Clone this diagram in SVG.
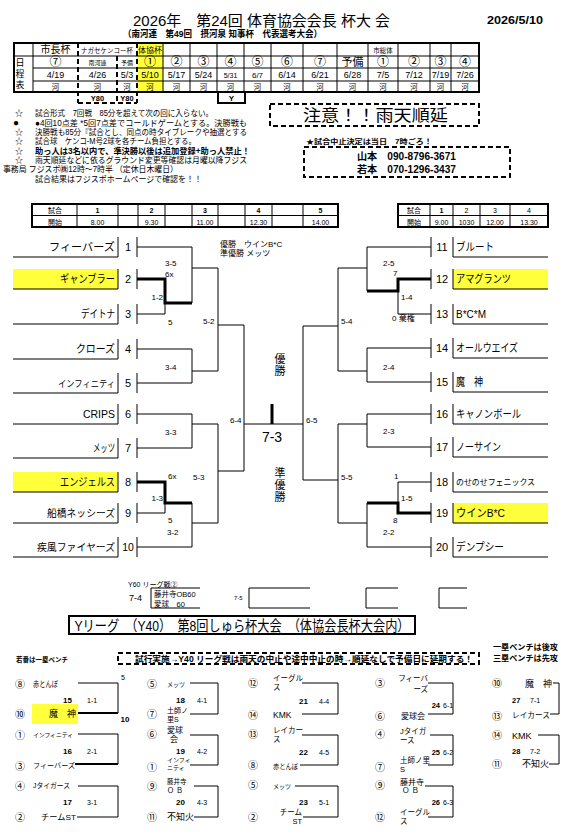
<svg xmlns="http://www.w3.org/2000/svg" width="570" height="836" viewBox="0 0 570 836">
<style>
.t{font-family:'Liberation Sans','Noto Sans CJK JP',sans-serif;fill:#000}
.b{font-weight:bold}
.m{text-anchor:middle}
.e{text-anchor:end}
.l{stroke:#000;stroke-width:1;fill:none}
.k{stroke:#000;stroke-width:3;fill:none}
.o{stroke:#000;stroke-width:2;fill:none}
.d{stroke:#000;stroke-width:2;stroke-dasharray:5 3;fill:none}
.y{fill:#ffff3c}
.s8{font-size:8px}
.s7{font-size:7px}
.s11{font-size:11px}
.c{font-size:10px;text-anchor:middle}
</style>
<rect width="570" height="836" fill="#fff"/>

<g id="header">
<text class="t" x="133" y="26" font-size="15" textLength="257" lengthAdjust="spacingAndGlyphs">2026年　第24回 体育協会会長 杯大 会</text>
<text class="t b" x="487" y="24" font-size="11" textLength="56" lengthAdjust="spacingAndGlyphs">2026/5/10</text>
<text class="t b" x="123" y="37" font-size="9.5" textLength="199" lengthAdjust="spacingAndGlyphs">（南河連　第49回　摂河泉 知事杯　代表選考大会）</text>
</g>

<g id="schedule">
<rect x="137" y="43" width="26" height="49" class="y"/>
<rect x="14" y="43" width="465" height="49" class="o"/>
<path class="l" d="M14 56H479M33 68H479M33 81H479"/>
<path class="l" d="M33 43V92M163 43V92M190 43V92M217 43V92M244 43V92M271 43V92M303 43V92M337 43V92M368 43V92M398 43V92M430 43V92M451 43V92"/>
<path class="d" d="M78 43V103M117 56V103M137 43V103M78 103H137"/>
<rect x="218" y="92" width="27" height="11" class="o"/>
<text class="t" x="20" y="66" font-size="9" text-anchor="middle">日</text>
<text class="t" x="20" y="77" font-size="9" text-anchor="middle">程</text>
<text class="t" x="20" y="88" font-size="9" text-anchor="middle">表</text>
<text class="t m" x="55.5" y="53" font-size="10">市長杯</text>
<text class="t m" x="107" y="53" font-size="6.5">ナガセケンコー杯</text>
<text class="t m" x="150" y="53" font-size="8">体協杯</text>
<text class="t m" x="383" y="53" font-size="6.5">市総体</text>
<g class="t m" font-size="12">
<text x="55.5" y="66">⑦</text><text x="150" y="66">①</text><text x="176.5" y="66">②</text><text x="203.5" y="66">③</text><text x="230.5" y="66">④</text><text x="257.5" y="66">⑤</text><text x="287" y="66">⑥</text><text x="320" y="66">⑦</text><text x="383" y="66">①</text><text x="414" y="66">②</text><text x="440.5" y="66">③</text><text x="465" y="66">④</text>
</g>
<text class="t m" x="97.5" y="65" font-size="6">南河連</text>
<text class="t m" x="127" y="65" font-size="6">予備</text>
<text class="t m" x="352.5" y="66" font-size="11">予備</text>
<g class="t m" font-size="9">
<text x="55.5" y="78">4/19</text><text x="97.5" y="78">4/26</text><text x="127" y="78">5/3</text><text x="150" y="78">5/10</text><text x="176.5" y="78">5/17</text><text x="203.5" y="78">5/24</text><text x="230.5" y="78" font-size="7">5/31</text><text x="257.5" y="78" font-size="8">6/7</text><text x="287" y="78">6/14</text><text x="320" y="78">6/21</text><text x="352.5" y="78">6/28</text><text x="383" y="78">7/5</text><text x="414" y="78">7/12</text><text x="440.5" y="78">7/19</text><text x="465" y="78">7/26</text>
</g>
<g class="t m" font-size="7.5" fill="#333">
<text x="55.5" y="90">河</text><text x="97.5" y="90">河</text><text x="127" y="90">河</text><text x="150" y="90">河</text><text x="176.5" y="90">河</text><text x="203.5" y="90">河</text><text x="230.5" y="90">河</text><text x="257.5" y="90">河</text><text x="287" y="90">河</text><text x="320" y="90">河</text><text x="352.5" y="90">河</text><text x="383" y="90">河</text><text x="414" y="90">河</text><text x="440.5" y="90">河</text><text x="465" y="90">河</text>
</g>
<text class="t b m" x="97.5" y="101" font-size="7.5">Y80</text>
<text class="t b m" x="127" y="101" font-size="7.5">Y80</text>
<text class="t b m" x="231.5" y="101" font-size="8">Y</text>
</g>

<g id="notes" class="t" font-size="8.5">
<text x="15" y="116" font-size="8">☆</text>
<text x="35" y="116" textLength="178" lengthAdjust="spacingAndGlyphs">試合形式　7回戦　85分を超えて次の回に入らない。</text>
<text x="13" y="126" font-size="10">●</text>
<text x="35" y="126" textLength="212" lengthAdjust="spacingAndGlyphs">●4回10点差 *5回7点差でコールドゲームとする。決勝戦も</text>
<text x="15" y="135" font-size="8">☆</text>
<text x="35" y="135" textLength="212" lengthAdjust="spacingAndGlyphs">決勝戦も85分『試合とし、同点の時タイブレークや抽選とする</text>
<text x="15" y="144" font-size="8">☆</text>
<text x="35" y="144" textLength="161" lengthAdjust="spacingAndGlyphs">試合球　ケンコ-M号2球を各チーム負担とする。</text>
<text x="15" y="154" font-size="8">☆</text>
<text x="35" y="154" class="b" textLength="215" lengthAdjust="spacingAndGlyphs">助っ人は3名以内で、準決勝以後は追加登録+助っ人禁止！</text>
<text x="15" y="163" font-size="8">☆</text>
<text x="35" y="163" textLength="212" lengthAdjust="spacingAndGlyphs">雨天順延などに依るグラウンド変更等確認は月曜以降フジス</text>
<text x="3" y="172" textLength="175" lengthAdjust="spacingAndGlyphs">事務局 フジスポ㈱12時～7時半 （定休日木曜日）</text>
<text x="35" y="182" textLength="167" lengthAdjust="spacingAndGlyphs">試合結果はフジスポホームページで確認を！！</text>
</g>

<g id="rain-notice">
<rect x="270" y="104" width="209" height="22" class="d"/>
<text class="t" x="303" y="121" font-size="16" textLength="145" lengthAdjust="spacingAndGlyphs">注意！！雨天順延</text>
<text class="t b" x="306" y="144" font-size="7" textLength="126" lengthAdjust="spacingAndGlyphs">★試合中止決定は当日　7時ごろ！</text>
<rect x="304" y="147" width="206" height="30" class="d"/>
<text class="t b" x="357" y="160" font-size="10" textLength="99" lengthAdjust="spacingAndGlyphs">山本　090-8796-3671</text>
<text class="t b" x="357" y="173" font-size="10" textLength="99" lengthAdjust="spacingAndGlyphs">若本　070-1296-3437</text>
</g>

<g id="time-left">
<rect x="32" y="204" width="306" height="23" class="o"/>
<path class="l" d="M32 215.5H338M77 204V227M118 204V227M138 204V227M165 204V227M192 204V227M218 204V227M245 204V227M272 204V227M303 204V227"/>
<g class="t m s7">
<text x="55" y="213">試合</text><text x="55" y="225">開始</text>
<text x="97.5" y="213" class="b">1</text><text x="97.5" y="225">8.00</text>
<text x="151.5" y="213" class="b">2</text><text x="151.5" y="225">9.30</text>
<text x="205" y="213" class="b">3</text><text x="205" y="225">11.00</text>
<text x="258.5" y="213" class="b">4</text><text x="258.5" y="225">12.30</text>
<text x="320.5" y="213" class="b">5</text><text x="320.5" y="225">14.00</text>
</g>
</g>

<g id="time-right">
<rect x="398" y="204" width="150" height="23" class="o"/>
<path class="l" d="M398 215.5H548M430 204V227M453 204V227M480 204V227M510 204V227"/>
<g class="t m s7">
<text x="414" y="213">試合</text><text x="414" y="225">開始</text>
<text x="441.5" y="213" class="b">1</text><text x="441.5" y="225">9.00</text>
<text x="466.5" y="213">2</text><text x="466.5" y="225">1030</text>
<text x="495" y="213">3</text><text x="495" y="225">12.00</text>
<text x="529" y="213">4</text><text x="529" y="225">13.30</text>
</g>
</g>

<g id="team-1"><path class="l" d="M13 257H118V237M137 237V257"/><text class="t e s11" x="115" y="251" textLength="66" lengthAdjust="spacingAndGlyphs">フィーバーズ</text><text class="t m s11" x="128" y="251">1</text></g>
<g id="team-2"><rect class="y" x="13" y="269" width="105" height="20"/><path class="l" d="M13 289H118V269M137 269V289"/><text class="t e s11" x="115" y="283" textLength="55" lengthAdjust="spacingAndGlyphs">ギャンブラー</text><text class="t m s11" x="128" y="283">2</text></g>
<g id="team-3"><path class="l" d="M13 324H118V304M137 304V324"/><text class="t e s11" x="115" y="318" textLength="34" lengthAdjust="spacingAndGlyphs">デイトナ</text><text class="t m s11" x="128" y="318">3</text></g>
<g id="team-4"><path class="l" d="M13 359H118V339M137 339V359"/><text class="t e s11" x="115" y="353" textLength="39" lengthAdjust="spacingAndGlyphs">クローズ</text><text class="t m s11" x="128" y="353">4</text></g>
<g id="team-5"><path class="l" d="M13 393H118V373M137 373V393"/><text class="t e" x="115" y="387" font-size="9.5" textLength="57" lengthAdjust="spacingAndGlyphs">インフィニティ</text><text class="t m s11" x="128" y="387">5</text></g>
<g id="team-6"><path class="l" d="M13 424H118V404M137 404V424"/><text class="t e s11" x="115" y="418" textLength="32" lengthAdjust="spacingAndGlyphs">CRIPS</text><text class="t m s11" x="128" y="418">6</text></g>
<g id="team-7"><path class="l" d="M13 458H118V438M137 438V458"/><text class="t e s11" x="115" y="452" textLength="22" lengthAdjust="spacingAndGlyphs">メッツ</text><text class="t m s11" x="128" y="452">7</text></g>
<g id="team-8"><rect class="y" x="13" y="472" width="105" height="20"/><path class="l" d="M13 492H118V472M137 472V492"/><text class="t e s11" x="115" y="486" textLength="55" lengthAdjust="spacingAndGlyphs">エンジェルス</text><text class="t m s11" x="128" y="486">8</text></g>
<g id="team-9"><path class="l" d="M13 523H118V503M137 503V523"/><text class="t e" x="115" y="517" font-size="10" textLength="68" lengthAdjust="spacingAndGlyphs">船橋ネッシーズ</text><text class="t m s11" x="128" y="517">9</text></g>
<g id="team-10"><path class="l" d="M13 557H118V537M137 537V557"/><text class="t e" x="115" y="551" font-size="10" textLength="78" lengthAdjust="spacingAndGlyphs">疾風ファイヤーズ</text><text class="t m" x="128" y="551" font-size="10.5">10</text></g>

<g id="team-11"><path class="l" d="M431 237V257M453 237V257H548"/><text class="t m s11" x="442" y="251">11</text><text class="t s11" x="456" y="251" textLength="38" lengthAdjust="spacingAndGlyphs">ブルート</text></g>
<g id="team-12"><rect class="y" x="453" y="269" width="95" height="20"/><path class="l" d="M431 269V289M453 269V289H548"/><text class="t m s11" x="442" y="283">12</text><text class="t s11" x="456" y="283" textLength="55" lengthAdjust="spacingAndGlyphs">アマグランツ</text></g>
<g id="team-13"><path class="l" d="M431 304V324M453 304V324H548"/><text class="t m s11" x="442" y="318">13</text><text class="t s11" x="456" y="318" textLength="30" lengthAdjust="spacingAndGlyphs">B*C*M</text></g>
<g id="team-14"><path class="l" d="M431 338V358M453 338V358H548"/><text class="t m s11" x="442" y="352">14</text><text class="t s11" x="456" y="352" textLength="62" lengthAdjust="spacingAndGlyphs">オールウエイズ</text></g>
<g id="team-15"><path class="l" d="M431 372V392M453 372V392H548"/><text class="t m s11" x="442" y="386">15</text><text class="t s11" x="456" y="386" textLength="27" lengthAdjust="spacingAndGlyphs">魔　神</text></g>
<g id="team-16"><path class="l" d="M431 404V424M453 404V424H548"/><text class="t m s11" x="442" y="418">16</text><text class="t s11" x="456" y="418" textLength="65" lengthAdjust="spacingAndGlyphs">キャノンボール</text></g>
<g id="team-17"><path class="l" d="M431 437V457M453 437V457H548"/><text class="t m s11" x="442" y="451">17</text><text class="t s11" x="456" y="451" textLength="45" lengthAdjust="spacingAndGlyphs">ノーサイン</text></g>
<g id="team-18"><path class="l" d="M431 472V492M453 472V492H548"/><text class="t m s11" x="442" y="486">18</text><text class="t" x="456" y="485" font-size="8.5" textLength="79" lengthAdjust="spacingAndGlyphs">のせのせフェニックス</text></g>
<g id="team-19"><rect class="y" x="453" y="503" width="95" height="20"/><path class="l" d="M431 503V523M453 503V523H548"/><text class="t m s11" x="442" y="517">19</text><text class="t s11" x="456" y="517" textLength="49" lengthAdjust="spacingAndGlyphs">ウインB*C</text></g>
<g id="team-20"><path class="l" d="M431 537V557M453 537V557H548"/><text class="t m s11" x="442" y="551">20</text><text class="t s11" x="456" y="551" textLength="48" lengthAdjust="spacingAndGlyphs">デンプシー</text></g>

<g id="connectors">
<path class="l" d="M137 247H192V303M137 314H165V303M192 268H218V371M137 349H192V383H137M192 371H218M218 325H244V471M137 414H192V448H137M192 424H218V523M137 513H165V503M192 503V547H137M192 523H218M218 471H244M244 424H303"/>
<path class="k" d="M137 279H165V303H192M137 482H165V503H192M272 404V424"/>
<path class="l" d="M431 247H367V291M431 314H398V291M367 268H338V371M431 348H367V382H431M367 371H338M338 326H303V480M431 414H367V447H431M367 424H338V523M431 482H398V503M367 503V547H431M367 523H338M338 480H303"/>
<path class="k" d="M431 279H398V291H367M431 513H398V503H367"/>
</g>

<g id="scores" class="t s8">
<text x="165" y="266">3-5</text><text x="165" y="277">6x</text><text x="163" y="300" class="e">1-2</text><text x="168" y="325">5</text>
<text x="203" y="324">5-2</text><text x="165" y="370">3-4</text><text x="165" y="435">3-3</text><text x="230" y="423">6-4</text>
<text x="168" y="479">6x</text><text x="193" y="480">5-3</text><text x="163" y="501" class="e">1-3</text><text x="168" y="523">5</text><text x="167" y="535">3-2</text>
<text x="383" y="266">2-5</text><text x="393" y="276">7</text><text x="401" y="300">1-4</text><text x="392" y="321">0 棄権</text>
<text x="341" y="324">5-4</text><text x="383" y="370">2-4</text><text x="306" y="423">6-5</text><text x="383" y="434">2-3</text>
<text x="341" y="480">5-5</text><text x="394" y="479">1</text><text x="401" y="501">1-5</text><text x="393" y="523">8</text><text x="383" y="535">2-2</text>
</g>

<g id="final">
<text class="t s8" x="220" y="247">優勝　ウインB*C</text>
<text class="t s8" x="220" y="256">準優勝 メッツ</text>
<text class="t m" x="280" y="363" font-size="11">優</text>
<text class="t m" x="280" y="375" font-size="11">勝</text>
<text class="t m" x="272" y="442" font-size="14">7-3</text>
<text class="t m" x="280" y="477" font-size="11">準</text>
<text class="t m" x="280" y="489" font-size="11">優</text>
<text class="t m" x="280" y="501" font-size="11">勝</text>
</g>

<g id="y60">
<text class="t s7" x="128" y="587">Y60 リーグ戦②</text>
<text class="t" x="129" y="601" font-size="9">7-4</text>
<path class="l" d="M200 588H151V608H200"/>
<text class="t" x="154" y="597" font-size="7.5">藤井寺OB60</text>
<text class="t" x="154" y="607" font-size="7.5">愛球　60</text>
<text class="t" x="234" y="600" font-size="6">7-5</text>
<path class="l" d="M310 588H249V608H310M398 588H366V608H398M467 588H439V608H467"/>
</g>

<g id="yleague-title">
<rect x="69" y="616" width="346" height="18" class="o"/>
<text class="t m" x="242" y="631" font-size="15" textLength="335" lengthAdjust="spacingAndGlyphs">Yリーグ　（Y40）　第8回しゅら杯大会　（体協会長杯大会内）</text>
<text class="t b" x="493" y="650" font-size="7.5" textLength="65" lengthAdjust="spacingAndGlyphs">一塁ベンチは後攻</text>
<text class="t b" x="493" y="661" font-size="7.5" textLength="65" lengthAdjust="spacingAndGlyphs">三塁ベンチは先攻</text>
<text class="t b" x="16" y="662" font-size="6.5" textLength="52" lengthAdjust="spacingAndGlyphs">若番は一塁ベンチ</text>
<rect x="118" y="653" width="361" height="11" class="d"/>
<text class="t b" x="135" y="662" font-size="8.5" textLength="338" lengthAdjust="spacingAndGlyphs">試行実施→Y40 リーグ戦は雨天の中止や途中中止の時→順延なしで予備日に延期する！</text>
</g>

<g id="ym-col1" class="t s8">
<text class="c" x="20" y="688">⑧</text><text x="33" y="687" textLength="25" lengthAdjust="spacingAndGlyphs">赤とんぼ</text>
<rect class="y" x="32" y="704" width="46" height="20"/>
<text class="c" x="20" y="718">⑩</text><text class="e" x="76" y="717" font-size="9">魔　神</text>
<path class="l" d="M78 683H118V713"/><path class="o" d="M78 713H118"/>
<text class="e b" x="72" y="703">15</text><text x="87" y="703" font-size="7">1-1</text>
<text x="121" y="680" font-size="7">5</text><text class="m b" x="125" y="722">10</text>
<text class="c" x="20" y="739">①</text><text x="33" y="737" font-size="6" textLength="40" lengthAdjust="spacingAndGlyphs">インフィニティ</text>
<text class="c" x="20" y="770">③</text><text x="33" y="768" font-size="7" textLength="42" lengthAdjust="spacingAndGlyphs">フィーバーズ</text>
<path class="l" d="M78 734H118V764"/><path class="o" d="M75 764H118"/>
<text class="e b" x="72" y="754">16</text><text x="87" y="754" font-size="7">2-1</text>
<text class="c" x="20" y="790">④</text><text x="33" y="788" font-size="7" textLength="37" lengthAdjust="spacingAndGlyphs">Jタイガース</text>
<text class="c" x="20" y="821">②</text><text x="41" y="820" textLength="35" lengthAdjust="spacingAndGlyphs">チームST</text>
<path class="l" d="M78 786H118V817H77"/>
<text class="e b" x="72" y="805">17</text><text x="87" y="805" font-size="7">3-1</text>
</g>

<g id="ym-col2" class="t s8">
<text class="c" x="152" y="688">⑤</text><text x="167" y="687" font-size="7" textLength="18" lengthAdjust="spacingAndGlyphs">メッツ</text>
<text class="c" x="152" y="718">⑦</text><text x="167" y="713" font-size="7">土師ノ</text><text x="167" y="722" font-size="7">里S</text>
<path class="l" d="M190 683H218V714H190"/>
<text class="e b" x="185" y="703">18</text><text x="197" y="703" font-size="7">4-1</text>
<text class="c" x="152" y="738">⑥</text><text x="167" y="733">愛球</text><text x="170" y="742">会</text>
<text class="c" x="152" y="771">①</text><text x="167" y="762" font-size="6">インフィ</text><text x="167" y="770" font-size="6">ニティ</text>
<path class="l" d="M190 735H218V765H190"/>
<text class="e b" x="185" y="754">19</text><text x="197" y="754" font-size="7">4-2</text>
<text class="c" x="152" y="790">⑨</text><text x="167" y="784" font-size="6.5">藤井寺</text><text x="167" y="793" font-size="7">Ｏ Ｂ</text>
<text class="c" x="152" y="821">⑪</text><text x="167" y="820" font-size="9">不知火</text>
<path class="l" d="M194 786H218V817H194"/>
<text class="e b" x="185" y="805">20</text><text x="197" y="805" font-size="7">4-3</text>
</g>

<g id="ym-col3" class="t s8">
<text class="c" x="253" y="687">⑫</text><text x="273" y="681" font-size="7.5">イーグル</text><text x="273" y="690" font-size="7.5">ス</text>
<text class="c" x="253" y="719">⑭</text><text x="273" y="718" font-size="8.5">KMK</text>
<path class="l" d="M302 683H338V714H302"/>
<text class="e b" x="308" y="704">21</text><text x="319" y="704" font-size="7">4-4</text>
<text class="c" x="253" y="738">⑬</text><text x="273" y="733" font-size="7.5">レイカー</text><text x="273" y="742" font-size="7.5">ス</text>
<text class="c" x="253" y="769">⑧</text><text x="273" y="769" font-size="7" textLength="25" lengthAdjust="spacingAndGlyphs">赤とんぼ</text>
<path class="l" d="M302 735H338V765H300"/>
<text class="e b" x="308" y="755">22</text><text x="319" y="755" font-size="7">4-5</text>
<text class="c" x="253" y="789">⑤</text><text x="273" y="789" font-size="7" textLength="18" lengthAdjust="spacingAndGlyphs">メッツ</text>
<text class="c" x="253" y="821">②</text><text class="e" x="302" y="815" font-size="7.5">チーム</text><text class="e" x="302" y="824" font-size="7.5">ST</text>
<path class="l" d="M295 786H338V817H303"/>
<text class="e b" x="308" y="805">23</text><text x="319" y="805" font-size="7">5-1</text>
</g>

<g id="ym-col4" class="t s8">
<text class="c" x="380" y="687">③</text><text class="e" x="428" y="681" font-size="7.5">フィーバ</text><text class="e" x="428" y="692" font-size="7.5">ーズ</text>
<text class="c" x="380" y="720">⑥</text><text x="401" y="719">愛球会</text>
<path class="l" d="M428 683H453V714H428"/>
<text class="e b" x="440" y="708" font-size="7.5">24</text><text x="443" y="708" font-size="7">6-1</text>
<text class="c" x="380" y="738">④</text><text x="400" y="734" font-size="7.5">Jタイガ</text><text x="400" y="743" font-size="7.5">ース</text>
<text class="c" x="380" y="771">⑦</text><text x="400" y="763" font-size="7.5">土師ノ里</text><text x="400" y="772" font-size="7.5">S</text>
<path class="l" d="M430 735H453V765H428"/>
<text class="e b" x="440" y="755" font-size="7.5">25</text><text x="443" y="755" font-size="7">6-2</text>
<text class="c" x="380" y="789">⑨</text><text x="400" y="785">藤井寺</text><text x="402" y="793" font-size="7.5">Ｏ Ｂ</text>
<text class="c" x="380" y="821">⑫</text><text x="400" y="815" font-size="7.5">イーグル</text><text x="400" y="824" font-size="7.5">ス</text>
<path class="l" d="M425 786H453V817H428"/>
<text class="e b" x="440" y="805" font-size="7.5">26</text><text x="443" y="805" font-size="7">6-3</text>
</g>

<g id="ym-col5" class="t s8">
<text class="c" x="497" y="687">⑩</text><text x="525" y="687" font-size="9" textLength="27" lengthAdjust="spacingAndGlyphs">魔　神</text>
<text class="c" x="497" y="720">⑬</text><text x="512" y="718" font-size="7.5" textLength="38" lengthAdjust="spacingAndGlyphs">レイカース</text>
<path class="l" d="M553 683H559V714H550"/>
<text class="b" x="512" y="703" font-size="7.5">27</text><text x="530" y="703" font-size="7">7-1</text>
<text class="c" x="497" y="739">⑭</text><text x="512" y="739" font-size="9">KMK</text>
<text class="c" x="497" y="768">⑪</text><text x="522" y="767" font-size="9">不知火</text>
<path class="l" d="M538 735H559V764H549"/>
<text class="b" x="512" y="754" font-size="7.5">28</text><text x="530" y="754" font-size="7">7-2</text>
</g>
</svg>
